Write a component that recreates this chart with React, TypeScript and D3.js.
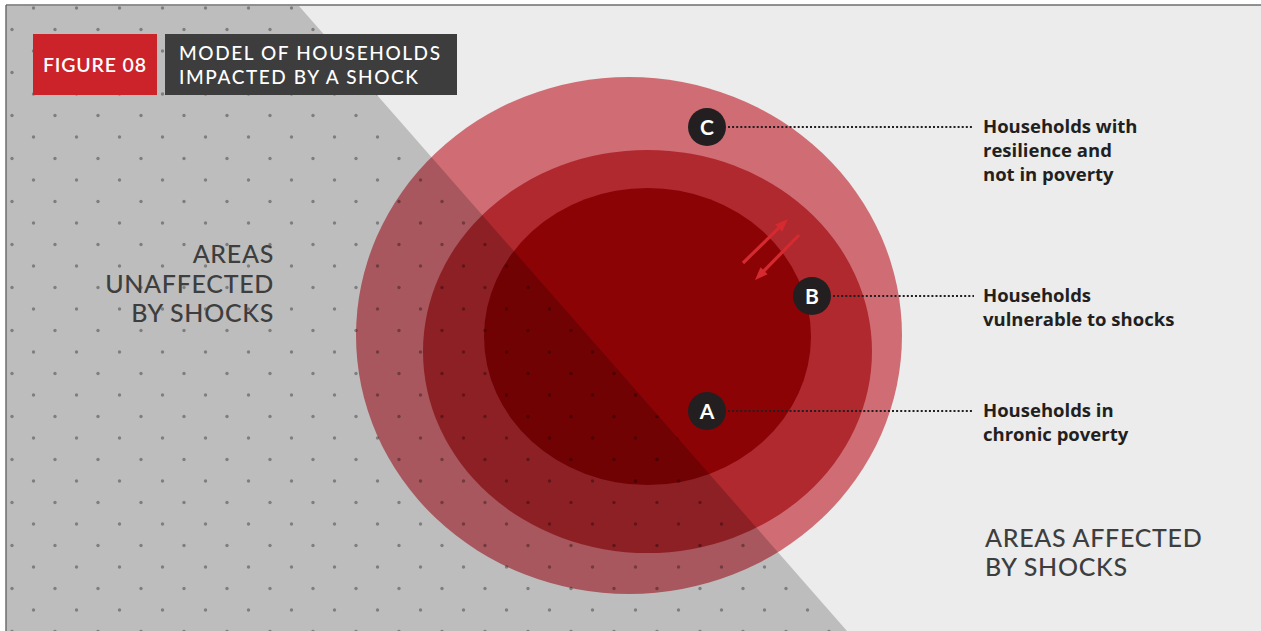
import React from "react";
import * as d3 from "d3";

// ---- content ----
const figureTag = "FIGURE 08";
const titleLines = ["MODEL OF HOUSEHOLDS", "IMPACTED BY A SHOCK"];
const unaffectedLines = ["AREAS", "UNAFFECTED", "BY SHOCKS"];
const affectedLines = ["AREAS AFFECTED", "BY SHOCKS"];
const ringKeys = ["C", "B", "A"];
const ringLabels = [
  ["Households with", "resilience and", "not in poverty"],
  ["Households", "vulnerable to shocks"],
  ["Households in", "chronic poverty"],
];

// ---- layout ----
const W = 1261;
const H = 631;
const FRAME_X = 6;
const FRAME_Y = 5;

// rings: outer (C), middle (B), inner (A) – ellipse bounds in px
const rings = [
  { x0: 356, x1: 902, y0: 77, y1: 594, fill: "#D06D74" },
  { x0: 423, x1: 872, y0: 150, y1: 553, fill: "#B0292F" },
  { x0: 484, x1: 811, y0: 188, y1: 485, fill: "#8C0306" },
];
const badges = [
  { x: 707, y: 127 },
  { x: 812, y: 296 },
  { x: 707, y: 411 },
];
const LABEL_X = 983;
const LINE_END = 974;

const triTopX = 299;
const triBotX = 847;

const arrows = [
  { x1: 743, y1: 263, x2: 788, y2: 219 },
  { x1: 799, y1: 235, x2: 755, y2: 280 },
];

const DARK = "#231F20";
const TEXT_GRAY = "#3E3E3E";
const TITLE_FONT = "Lato, sans-serif";
const LABEL_FONT = "'Open Sans', sans-serif";

function arrowHead(a: { x1: number; y1: number; x2: number; y2: number }) {
  const ang = Math.atan2(a.y2 - a.y1, a.x2 - a.x1);
  const len = 13;
  const half = 5;
  const bx = a.x2 - len * Math.cos(ang);
  const by = a.y2 - len * Math.sin(ang);
  const px = -Math.sin(ang) * half;
  const py = Math.cos(ang) * half;
  return {
    pts: `${a.x2},${a.y2} ${bx + px},${by + py} ${bx - px},${by - py}`,
    bx: a.x2 - (len - 2) * Math.cos(ang),
    by: a.y2 - (len - 2) * Math.sin(ang),
  };
}

export default function App() {
  const yScale = d3.scaleLinear().domain([0, 1]).range([FRAME_Y, H]);
  const triPoly = `${FRAME_X},${FRAME_Y + 1} ${triTopX},${FRAME_Y + 1} ${triBotX},${H} ${FRAME_X},${H}`;

  // decorative dot pattern
  const dots: { x: number; y: number }[] = [];
  d3.range(0, 30).forEach((k) => {
    const y = 8 + 21.5 * k;
    const start = k % 2 === 0 ? 33.5 : 12;
    for (let x = start; x < 900; x += 43) dots.push({ x, y });
  });

  return (
    <div style={{ position: "absolute", left: 0, top: 0 }}>
      <svg width={W} height={H} style={{ display: "block" }}>
        <defs>
          <clipPath id="tri">
            <polygon points={triPoly} />
          </clipPath>
        </defs>
        <rect x={0} y={0} width={W} height={H} fill="#ffffff" />
        <rect x={FRAME_X} y={FRAME_Y} width={W - FRAME_X} height={H - FRAME_Y} fill="#EBECEB" />

        {rings.map((r, i) => (
          <ellipse
            key={i}
            cx={(r.x0 + r.x1) / 2}
            cy={(r.y0 + r.y1) / 2}
            rx={(r.x1 - r.x0) / 2}
            ry={(r.y1 - r.y0) / 2}
            fill={r.fill}
          />
        ))}

        <polygon points={triPoly} fill="#000" fillOpacity={0.197} />
        <g clipPath="url(#tri)">
          {dots.map((d, i) => (
            <circle key={i} cx={d.x} cy={d.y} r={1.7} fill="#000" fillOpacity={0.33} />
          ))}
        </g>

        {/* frame */}
        <line x1={FRAME_X} y1={FRAME_Y} x2={W} y2={FRAME_Y} stroke="#6E6E6E" strokeWidth={1.5} />
        <line x1={FRAME_X} y1={FRAME_Y} x2={FRAME_X} y2={yScale(1)} stroke="#6E6E6E" strokeWidth={1.5} />

        {/* arrows */}
        {arrows.map((a, i) => {
          const h = arrowHead(a);
          return (
            <g key={i}>
              <line x1={a.x1} y1={a.y1} x2={h.bx} y2={h.by} stroke="#D42A30" strokeWidth={3.2} />
              <polygon points={h.pts} fill="#D42A30" />
            </g>
          );
        })}

        {/* title */}
        <rect x={33} y={34} width={124} height={61} fill="#CC2229" />
        <rect x={165} y={34} width={292} height={61} fill="#3D3D3D" />
        <text x={43} y={72} fill="#fff" fontFamily={TITLE_FONT} fontWeight={600} fontSize={19.5} textLength={103} lengthAdjust="spacing">
          {figureTag}
        </text>
        {titleLines.map((t, i) => (
          <text key={i} x={179} y={60 + 23.5 * i} fill="#fff" fontFamily={TITLE_FONT} fontWeight={500} fontSize={19} letterSpacing={1.6}>
            {t}
          </text>
        ))}

        {/* area labels */}
        {unaffectedLines.map((t, i) => (
          <text key={i} x={274} y={263 + 29.5 * i} textAnchor="end" fill={TEXT_GRAY} fontFamily={TITLE_FONT} fontWeight={500} fontSize={25} letterSpacing={0.7}>
            {t}
          </text>
        ))}
        {affectedLines.map((t, i) => (
          <text key={i} x={985} y={547 + 29 * i} fill={TEXT_GRAY} fontFamily={TITLE_FONT} fontWeight={500} fontSize={25} letterSpacing={0.7}>
            {t}
          </text>
        ))}

        {/* ring callouts */}
        {ringKeys.map((k, i) => {
          const b = badges[i];
          return (
            <g key={k}>
              <line
                x1={b.x + 21}
                y1={b.y}
                x2={LINE_END}
                y2={b.y}
                stroke={DARK}
                strokeWidth={2}
                strokeDasharray="2 2.1"
              />
              <circle cx={b.x} cy={b.y} r={19} fill={DARK} />
              <text x={b.x} y={b.y + 7.5} textAnchor="middle" fill="#fff" fontFamily={TITLE_FONT} fontWeight={700} fontSize={21}>
                {k}
              </text>
              {ringLabels[i].map((t, j) => (
                <text key={j} x={LABEL_X} y={b.y + 6 + 24 * j} fill={DARK} fontFamily={LABEL_FONT} fontWeight={700} fontSize={18.5}>
                  {t}
                </text>
              ))}
            </g>
          );
        })}
      </svg>
    </div>
  );
}
